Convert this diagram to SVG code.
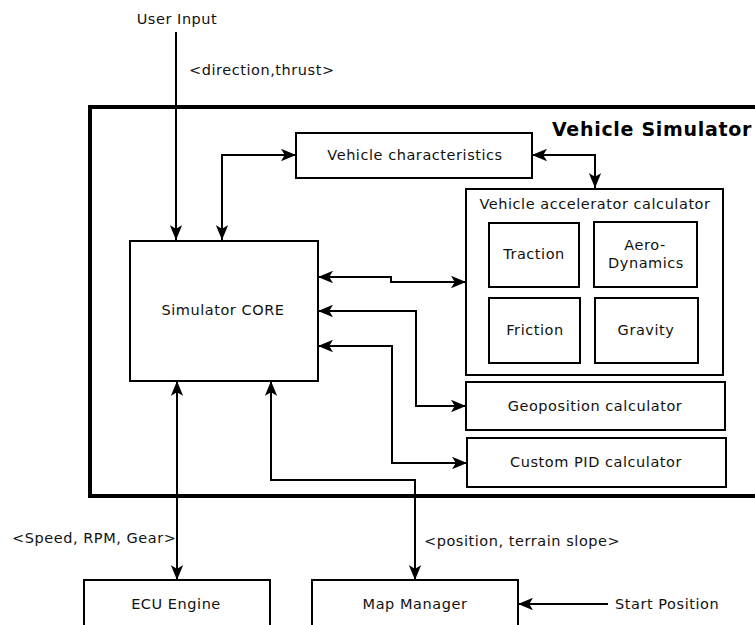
<svg xmlns="http://www.w3.org/2000/svg" width="755" height="625" viewBox="0 0 755 625">
<style>
.box{fill:#fff;stroke:#000;stroke-width:2}
.t{font-family:"DejaVu Sans",sans-serif;font-size:14.5px;letter-spacing:0.55px;fill:#111;text-anchor:middle;dominant-baseline:central}
.l{font-family:"DejaVu Sans",sans-serif;font-size:14.5px;letter-spacing:0.55px;fill:#111;dominant-baseline:central}
.c{fill:none;stroke:#000;stroke-width:2;marker-end:url(#ah)}
.b{marker-start:url(#ah)}
</style>
<defs>
<marker id="ah" viewBox="0 0 12 10" refX="12" refY="5" markerWidth="15" markerHeight="12.5" markerUnits="userSpaceOnUse" orient="auto-start-reverse">
<path d="M0,0 L12,5 L0,10 L3,5 z" fill="#000"/>
</marker>
</defs>
<rect width="755" height="625" fill="#fff"/>
<g id="vehicle-simulator">
<rect x="90" y="107" width="700" height="389" fill="none" stroke="#000" stroke-width="4"/>
<text x="552" y="129" style="font-family:'DejaVu Sans',sans-serif;font-size:19px;letter-spacing:0.7px;font-weight:bold;dominant-baseline:central">Vehicle Simulator</text>
</g>
<g id="connectors">
<path class="c" d="M176,32 V240"/>
<path class="c b" d="M296,155 H222 V240"/>
<path class="c b" d="M532,155 H595 V188"/>
<path class="c b" d="M318,277 H391 V282 H466"/>
<path class="c b" d="M318,311 H416 V406 H466"/>
<path class="c b" d="M318,346 H392 V463 H467"/>
<path class="c b" d="M177,381 V580"/>
<path class="c b" d="M271,381 V480 H415 V580"/>
<path class="c" d="M608,604 H518"/>
<text class="l" x="189" y="70">&lt;direction,thrust&gt;</text>
<text class="l" x="12" y="538">&lt;Speed, RPM, Gear&gt;</text>
<text class="l" x="424" y="541">&lt;position, terrain slope&gt;</text>
</g>
<g id="user-input"><text class="t" x="177" y="19">User Input</text></g>
<g id="start-position"><text class="l" x="615" y="604">Start Position</text></g>
<g id="vehicle-characteristics">
<rect class="box" x="296" y="133" width="236" height="45"/>
<text class="t" x="415" y="155">Vehicle characteristics</text>
</g>
<g id="simulator-core">
<rect class="box" x="130" y="241" width="188" height="140"/>
<text class="t" x="223" y="310">Simulator CORE</text>
</g>
<g id="accelerator-calculator">
<rect class="box" x="466" y="189" width="257" height="186"/>
<text class="t" x="595" y="204">Vehicle accelerator calculator</text>
</g>
<g id="traction">
<rect class="box" x="489" y="223" width="90" height="64"/>
<text class="t" x="534" y="254">Traction</text>
</g>
<g id="aero-dynamics">
<rect class="box" x="594" y="222" width="103" height="65"/>
<text class="t" x="645" y="245">Aero-</text>
<text class="t" x="646" y="263">Dynamics</text>
</g>
<g id="friction">
<rect class="box" x="489" y="298" width="91" height="65"/>
<text class="t" x="535" y="330">Friction</text>
</g>
<g id="gravity">
<rect class="box" x="595" y="298" width="103" height="65"/>
<text class="t" x="646" y="330">Gravity</text>
</g>
<g id="geoposition-calculator">
<rect class="box" x="466" y="382" width="259" height="48"/>
<text class="t" x="595" y="406">Geoposition calculator</text>
</g>
<g id="custom-pid-calculator">
<rect class="box" x="467" y="438" width="259" height="49"/>
<text class="t" x="596" y="462">Custom PID calculator</text>
</g>
<g id="ecu-engine">
<rect class="box" x="84" y="580" width="186" height="60"/>
<text class="t" x="176" y="604">ECU Engine</text>
</g>
<g id="map-manager">
<rect class="box" x="312" y="580" width="206" height="60"/>
<text class="t" x="415" y="604">Map Manager</text>
</g>
</svg>
